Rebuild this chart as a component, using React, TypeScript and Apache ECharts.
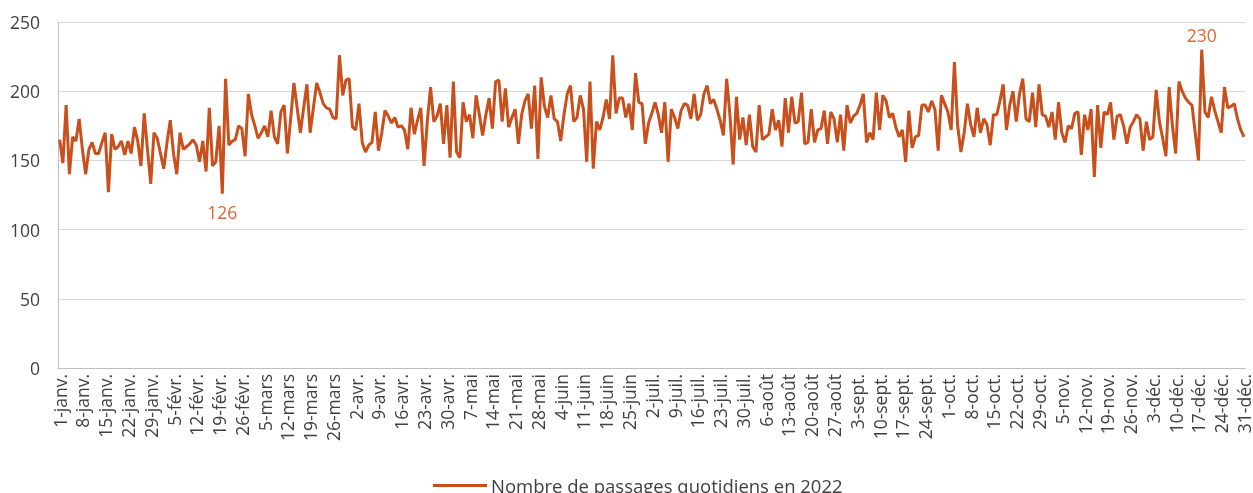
import { useEffect, useRef } from "react";
import * as echarts from "echarts";

const monthNames = ["janv.", "févr.", "mars", "avr.", "mai", "juin", "juil.", "août", "sept.", "oct.", "nov.", "déc."];
const monthDays = [31, 28, 31, 30, 31, 30, 31, 31, 30, 31, 30, 31];
const categories: string[] = [];
monthNames.forEach((m, i) => {
  for (let d = 1; d <= monthDays[i]; d++) categories.push(`${d}-${m}`);
});

const seriesName = "Nombre de passages quotidiens en 2022";

const janFeb = [
  165, 148, 190, 140, 167, 164, 180, 158, 140, 158, 163, 155, 155, 163, 170, 127, 169, 158, 160, 164,
  154, 164, 155, 174, 164, 146, 184, 158, 133, 170, 166, 155, 144, 163, 179, 155, 140, 170, 158, 160,
  162, 165, 161, 149, 164, 142, 188, 146, 149, 175, 126, 209, 161, 164, 165, 175, 173, 153, 198,
];
const marApr = [
  183, 175, 166, 170, 175, 167, 186, 167, 162, 185, 190, 155, 180, 206, 188, 170, 188, 205, 170, 188,
  206, 199, 191, 188, 187, 181, 180, 226, 197, 208, 209, 174, 172, 191, 163, 156, 161, 163, 185, 157,
  170, 186, 182, 177, 181, 174, 175, 172, 158, 188, 169, 179, 188, 146, 178, 203, 178, 182, 191, 162,
  190,
];
const mayJun = [
  152, 207, 156, 152, 192, 178, 183, 166, 197, 183, 168, 183, 195, 173, 207, 208, 178, 202, 174, 181,
  187, 162, 183, 193, 198, 173, 204, 151, 210, 189, 181, 197, 180, 178, 164, 183, 198, 204, 178, 181,
  197, 187, 149, 207, 144, 178, 172, 181, 194, 180, 226, 184, 195, 195, 181, 191, 172, 213, 192, 191,
  162,
];
const julAug = [
  177, 184, 192, 183, 170, 192, 149, 187, 181, 173, 186, 191, 190, 180, 198, 179, 183, 198, 204, 191,
  194, 187, 179, 168, 209, 183, 147, 196, 165, 181, 161, 183, 160, 156, 190, 165, 167, 169, 187, 172,
  179, 160, 195, 170, 196, 177, 178, 199, 162, 163, 187, 163, 172, 173, 186, 162, 185, 180, 163, 183,
  157, 190,
];
const sepOct = [
  177, 182, 184, 190, 198, 163, 170, 165, 199, 172, 197, 193, 181, 184, 174, 167, 172, 149, 186, 159,
  167, 168, 190, 190, 185, 193, 187, 157, 197, 191, 185, 172, 221, 175, 156, 170, 191, 176, 167, 188,
  170, 180, 176, 161, 183, 183, 193, 205, 172, 190, 200, 178, 198, 209, 180, 178, 199, 174, 205, 183,
  182,
];
const novDec = [
  174, 185, 165, 192, 170, 163, 175, 173, 184, 185, 154, 183, 172, 187, 138, 190, 159, 185, 183, 192,
  165, 182, 183, 175, 162, 174, 178, 183, 180, 157, 178, 165, 167, 201, 178, 166, 153, 203, 175, 155,
  207, 200, 195, 192, 190, 170, 150, 230, 185, 181, 196, 186, 178, 170, 203, 188, 189, 191, 180, 172,
  167,
];
const passages = [...janFeb, ...marApr, ...mayJun, ...julAug, ...sepOct, ...novDec];

const yMin = 0;
const yMax = 250;
const yStep = 50;

const lineColor = "#C9501C";
const labelColor = "#E0682F";
const textColor = "#404040";
const fontFamily = "'Open Sans', 'Noto Sans', sans-serif";

export default function App() {
  const ref = useRef<HTMLDivElement>(null);
  useEffect(() => {
    if (!ref.current) return;
    const chart = echarts.init(ref.current, undefined, { renderer: "svg" });
    chart.setOption({
      animation: false,
      textStyle: { fontFamily },
      grid: { left: 58, right: 4, top: 22, height: 346 },
      legend: {
        bottom: -7,
        left: 428,
        itemWidth: 54,
        itemHeight: 12,
        itemGap: 4,
        textStyle: { fontSize: 18.5, color: textColor, fontFamily, padding: [0, 0, 0, -1] },
        data: [{ name: seriesName, icon: "path://M0,5 L54,5 L54,8 L0,8 Z" }],
      },
      xAxis: {
        type: "category",
        data: categories,
        boundaryGap: true,
        axisLine: { show: true, lineStyle: { color: "#BFBFBF", width: 1 } },
        axisTick: { show: false },
        axisLabel: {
          interval: 6,
          rotate: 90,
          fontSize: 17.5,
          color: textColor,
          margin: 6,
          fontFamily,
        },
      },
      yAxis: {
        type: "value",
        min: yMin,
        max: yMax,
        interval: yStep,
        axisLine: { show: true, lineStyle: { color: "#BFBFBF", width: 1 } },
        axisTick: { show: false },
        splitLine: { lineStyle: { color: "#D9D9D9", width: 1 } },
        axisLabel: { fontSize: 17.5, color: textColor, margin: 18, fontFamily },
      },
      series: [
        {
          name: seriesName,
          type: "line",
          data: passages,
          symbol: "none",
          lineStyle: { color: lineColor, width: 3 },
          itemStyle: { color: lineColor },
          markPoint: {
            symbol: "circle",
            symbolSize: 1,
            itemStyle: { color: "rgba(0,0,0,0)" },
            data: [
              { type: "max", label: { show: true, position: "top", distance: 5, fontSize: 17.5, color: labelColor } },
              { type: "min", label: { show: true, position: "bottom", distance: 9, fontSize: 17.5, color: labelColor } },
            ],
          },
        },
      ],
    });
    return () => chart.dispose();
  }, []);
  return <div ref={ref} style={{ position: "fixed", left: 0, top: 0, width: 1253, height: 493 }} />;
}
